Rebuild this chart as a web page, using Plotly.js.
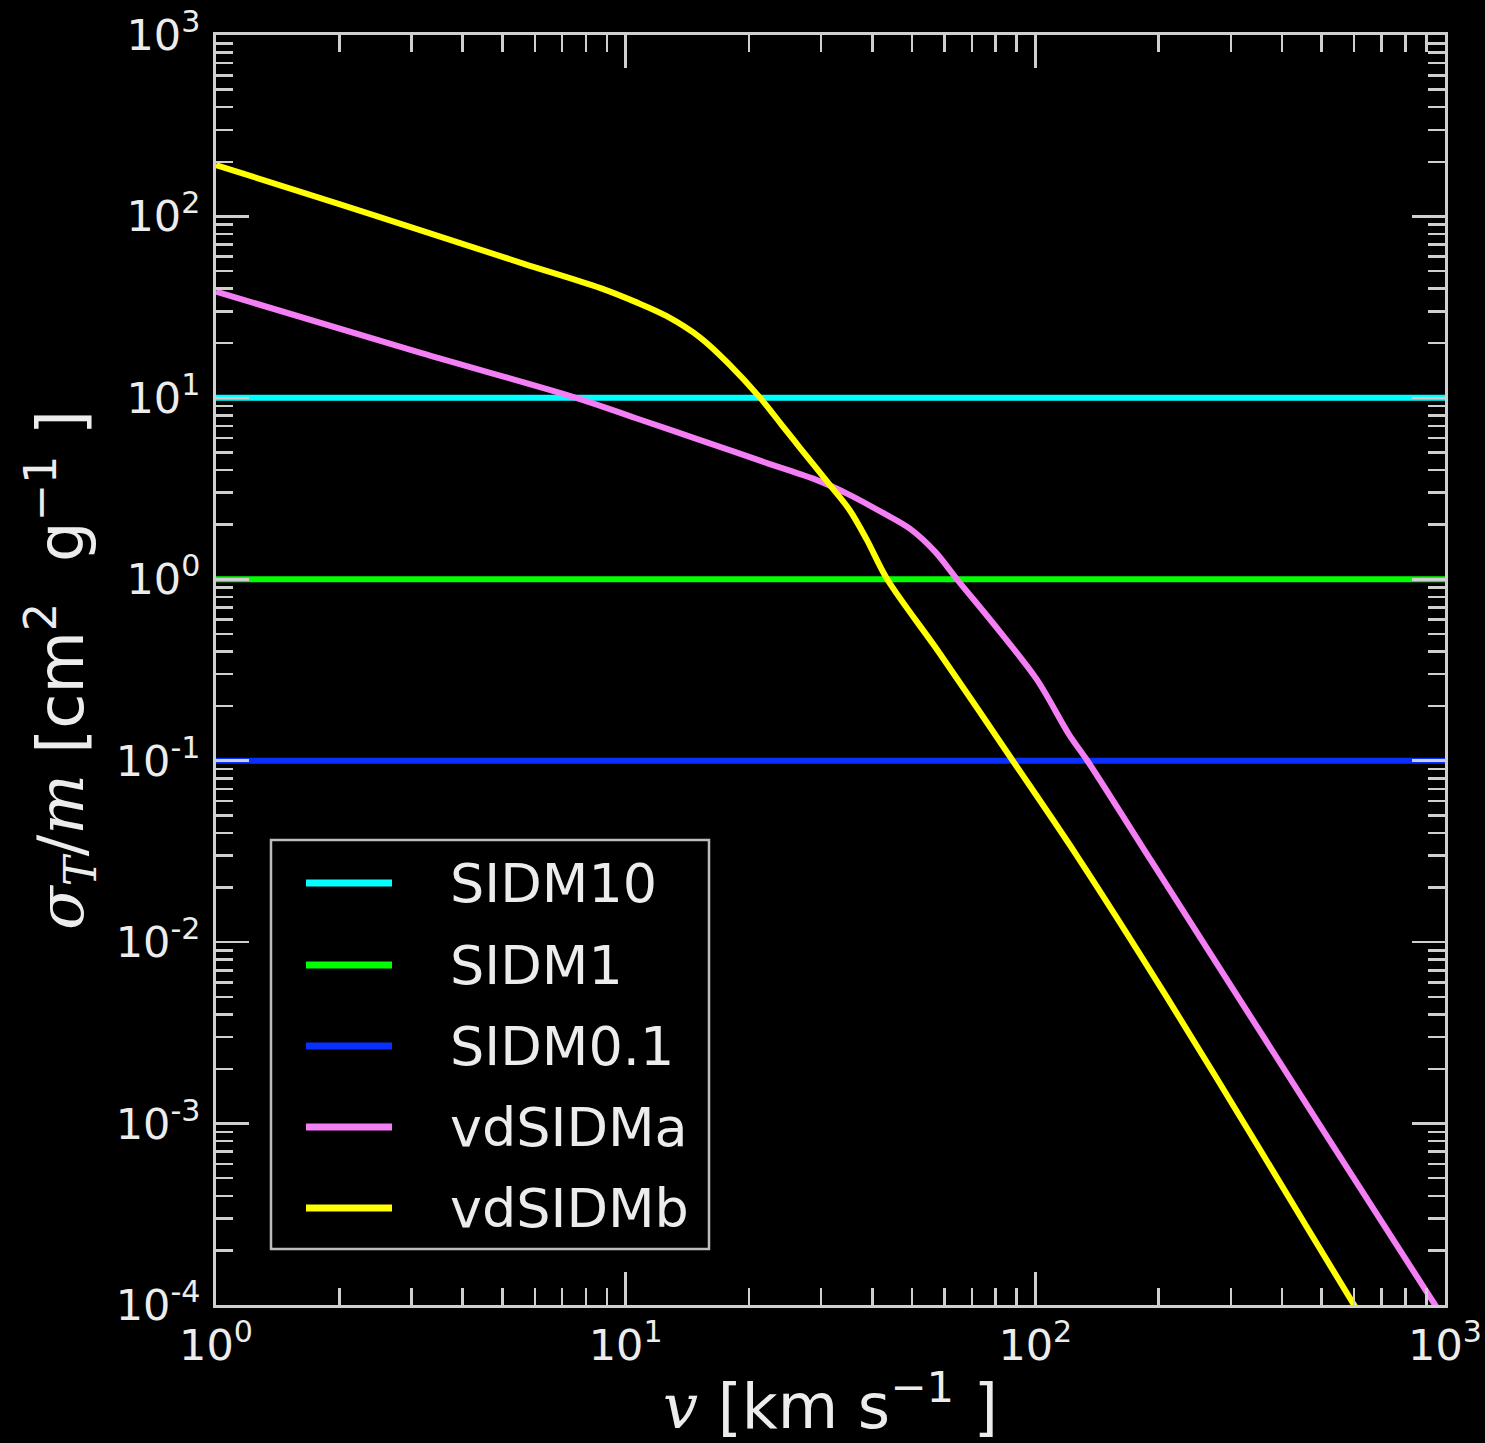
<!DOCTYPE html>
<html>
<head>
<meta charset="utf-8">
<script src="https://cdn.plot.ly/plotly-3.0.1.min.js"></script>
<style>
  html, body { margin: 0; padding: 0; background: #000; }
  #chart { width: 1485px; height: 1443px; }
</style>
</head>
<body>
<div id="chart"></div>
<script>
// ---------- data ----------
const seriesNames = ['SIDM10', 'SIDM1', 'SIDM0.1', 'vdSIDMa', 'vdSIDMb'];
const seriesColors = ['#00ffff', '#00ff00', '#0a30ff', '#f47ef4', '#ffff00'];

// constant cross sections [cm^2 g^-1]
const vConst = [1, 1000];
const sigmaConst = [10, 1, 0.1];

// velocity-dependent model a (pink)
const vA = [1, 3.16, 7.57, 10.6, 15.2, 22.4, 29.3, 35.2, 42.5, 49.4, 56.9, 64.4, 82, 101, 121, 134, 191, 303, 933, 1000];
const sigmaA = [38.5, 17.7, 10, 7.72, 5.85, 4.33, 3.52, 2.92, 2.32, 1.90, 1.42, 1.0, 0.513, 0.279, 0.139, 0.1, 0.0285, 0.00556, 1.05e-4, 8.3e-5];

// velocity-dependent model b (yellow)
const vB = [1, 2.0, 3.26, 5.62, 8.65, 10.6, 12.6, 15.2, 17.8, 21.3, 24, 26.6, 31.5, 35.2, 38.8, 43.5, 58.5, 88.1, 126, 209, 355, 600, 1000];
const sigmaB = [192, 117, 82, 55, 40.4, 33.7, 28.2, 21.5, 15.5, 10, 7.13, 5.32, 3.31, 2.41, 1.65, 1.0, 0.389, 0.1, 0.0302, 0.00501, 7.08e-4, 1e-4, 1.6e-5];

// tick labels
const xTickVals = [1, 10, 100, 1000];
const xTickText = ['10<sup>0</sup>', '10<sup>1</sup>', '10<sup>2</sup>', '10<sup>3</sup>'];
const yTickVals = [1e-4, 1e-3, 1e-2, 1e-1, 1, 10, 100, 1000];
const yTickText = ['10<sup>-4</sup>', '10<sup>-3</sup>', '10<sup>-2</sup>', '10<sup>-1</sup>',
                   '10<sup>0</sup>', '10<sup>1</sup>', '10<sup>2</sup>', '10<sup>3</sup>'];

// ---------- build ----------
function minorTicks(d0, d1) {
  const out = [];
  for (let d = d0; d < d1; d++) for (let m = 2; m <= 9; m++) out.push(m * Math.pow(10, d));
  return out;
}

const LW = 6;
const traces = [];
sigmaConst.forEach((s, i) => {
  traces.push({
    x: vConst, y: [s, s], mode: 'lines', name: seriesNames[i],
    line: { color: seriesColors[i], width: LW }, showlegend: false
  });
});
traces.push({ x: vA, y: sigmaA, mode: 'lines', name: seriesNames[3],
  line: { color: seriesColors[3], width: LW, shape: 'spline', smoothing: 0.9 }, showlegend: false });
traces.push({ x: vB, y: sigmaB, mode: 'lines', name: seriesNames[4],
  line: { color: seriesColors[4], width: LW, shape: 'spline', smoothing: 0.9 }, showlegend: false });

const axisCol = '#cfcfcf';
const txtCol = '#ececec';
const tickFont = { family: 'DejaVu Sans', size: 43, color: txtCol };

function axisCommon() {
  return {
    type: 'log', showgrid: false, zeroline: false,
    showline: true, linecolor: axisCol, linewidth: 3, mirror: 'allticks',
    ticks: 'inside', ticklen: 33, tickwidth: 2.5, tickcolor: axisCol,
    tickfont: tickFont, fixedrange: true
  };
}

const xaxis = Object.assign(axisCommon(), {
  range: [0, 3], tickmode: 'array', tickvals: xTickVals, ticktext: xTickText,
  minor: { ticks: 'inside', ticklen: 17, tickwidth: 2.5, tickcolor: axisCol,
           tickvals: minorTicks(0, 3), showgrid: false },
  title: {
    text: '<span style="font-family:\'DejaVu Serif\'"><i>v</i></span> [km s<sup>\u22121</sup> ]',
    font: { family: 'DejaVu Sans', size: 62, color: txtCol }, standoff: 18
  }
});
const yaxis = Object.assign(axisCommon(), {
  range: [-4, 3], tickmode: 'array', tickvals: yTickVals, ticktext: yTickText,
  ticklabelstandoff: 4,
  minor: { ticks: 'inside', ticklen: 17, tickwidth: 2.5, tickcolor: axisCol,
           tickvals: minorTicks(-4, 3), showgrid: false },
  title: {
    text: '<span style="font-family:\'DejaVu Serif\'"><i>\u03c3</i><sub><i>T</i></sub>/<i>m</i></span> [cm<sup>2</sup>  g<sup>\u22121</sup> ]',
    font: { family: 'DejaVu Sans', size: 64, color: txtCol }, standoff: 12
  }
});

// custom legend (box, line samples, labels), in paper coordinates
const L = 216, R = 1445, T = 35, B = 1305;
const px = v => (v - L) / (R - L);
const py = v => (B - v) / (B - T);
const shapes = [{
  type: 'rect', xref: 'paper', yref: 'paper', layer: 'above',
  x0: px(271), x1: px(709), y0: py(1249), y1: py(840),
  line: { color: '#bdbdbd', width: 2.5 }, fillcolor: '#000'
}];
const annotations = [];
const rowY = [883, 965, 1046, 1127, 1208];
seriesNames.forEach((n, i) => {
  shapes.push({ type: 'line', xref: 'paper', yref: 'paper', layer: 'above',
    x0: px(306), x1: px(392), y0: py(rowY[i]), y1: py(rowY[i]),
    line: { color: seriesColors[i], width: 7 } });
  annotations.push({ xref: 'paper', yref: 'paper', x: px(448), y: py(rowY[i]),
    xanchor: 'left', yanchor: 'middle', showarrow: false, text: n,
    font: { family: 'DejaVu Sans', size: 54, color: txtCol } });
});

const layout = {
  width: 1485, height: 1443,
  paper_bgcolor: '#000', plot_bgcolor: '#000',
  margin: { l: L, r: 1485 - R, t: T, b: 1443 - B, pad: 0 },
  xaxis: xaxis, yaxis: yaxis,
  shapes: shapes, annotations: annotations,
  showlegend: false
};

Plotly.newPlot('chart', traces, layout, { displayModeBar: false, staticPlot: true });
</script>
</body>
</html>
